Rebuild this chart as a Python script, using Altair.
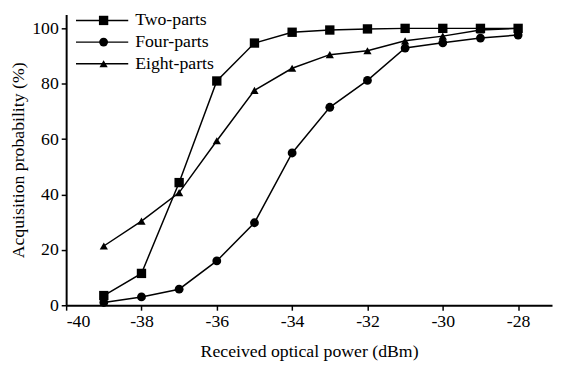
import altair as alt
import pandas as pd

power = [-39, -38, -37, -36, -35, -34, -33, -32, -31, -30, -29, -28]
two_parts = [3.5, 11.5, 44.3, 81.0, 94.7, 98.6, 99.4, 99.8, 100.0, 100.0, 100.0, 100.0]
four_parts = [1.0, 3.0, 5.8, 16.0, 29.8, 55.0, 71.5, 81.2, 92.9, 94.8, 96.5, 97.6]
eight_parts = [21.4, 30.4, 40.7, 59.4, 77.6, 85.6, 90.5, 91.9, 95.5, 97.2, 99.4, 100.0]
series = ["Two-parts", "Four-parts", "Eight-parts"]
shapes = ["square", "circle", "triangle-up"]
x_ticks = [-40, -38, -36, -34, -32, -30, -28]
y_ticks = [0, 20, 40, 60, 80, 100]

rows = []
for name, vals in zip(series, [two_parts, four_parts, eight_parts]):
    for p, v in zip(power, vals):
        rows.append({"power": p, "prob": v, "series": name})
df = pd.DataFrame(rows)
leg = pd.DataFrame({"series": series, "idx": list(range(len(series)))})

FONT = "Liberation Serif"

x = alt.X("power:Q", scale=alt.Scale(domain=[-40, -27.1], nice=False, zero=False),
          axis=alt.Axis(values=x_ticks, title="Received optical power (dBm)", grid=False,
                        labelExpr="toString(datum.value)", labelFont=FONT, titleFont=FONT,
                        labelFontSize=18, titleFontSize=18, titlePadding=12, labelPadding=3))
y = alt.Y("prob:Q", scale=alt.Scale(domain=[0, 105], nice=False),
          axis=alt.Axis(values=y_ticks, title="Acquisition probability (%)", grid=False,
                        labelFont=FONT, titleFont=FONT,
                        labelFontSize=18, titleFontSize=18, titlePadding=4, labelPadding=3))
shape = alt.Shape("series:N", scale=alt.Scale(domain=series, range=shapes), legend=None)
size = alt.Size("series:N", scale=alt.Scale(domain=series, range=[90, 70, 115]), legend=None)

lines = alt.Chart(df).mark_line(color="black", strokeWidth=1.5).encode(x=x, y=y, detail="series:N")
points = alt.Chart(df).mark_point(filled=True, color="black", opacity=1).encode(
    x=x, y=y, shape=shape, size=size)

ly = alt.Y("idx:Q", scale=alt.Scale(domain=[0, 2], range=[6, 50]), axis=None)
leg_rule = alt.Chart(leg).mark_rule(color="black", strokeWidth=1.5).encode(
    x=alt.value(10), x2=alt.value(63), y=ly)
leg_pt = alt.Chart(leg).mark_point(filled=True, color="black", opacity=1).encode(
    x=alt.value(38), y=ly, shape=shape, size=size)
leg_txt = alt.Chart(leg).mark_text(align="left", baseline="middle", font=FONT, fontSize=18,
                                   color="black").encode(x=alt.value(70), y=ly, text="series:N")

main = alt.layer(lines, points)
legend = alt.layer(leg_rule, leg_pt, leg_txt)

chart = alt.layer(main, legend).resolve_scale(y="independent").properties(
    width=493, height=295,
    autosize=alt.AutoSizeParams(type="none"),
    padding={"left": 59, "top": 4, "right": 1, "bottom": 58},
).configure_axis(
    domainColor="black", domainWidth=2, tickColor="black", tickWidth=1.5, tickSize=5,
    labelColor="black", titleColor="black", labelFont=FONT, titleFont=FONT,
    titleFontWeight="normal",
).configure_view(stroke=None)

chart.save("out.html", embed_options={"renderer": "svg", "actions": False})
